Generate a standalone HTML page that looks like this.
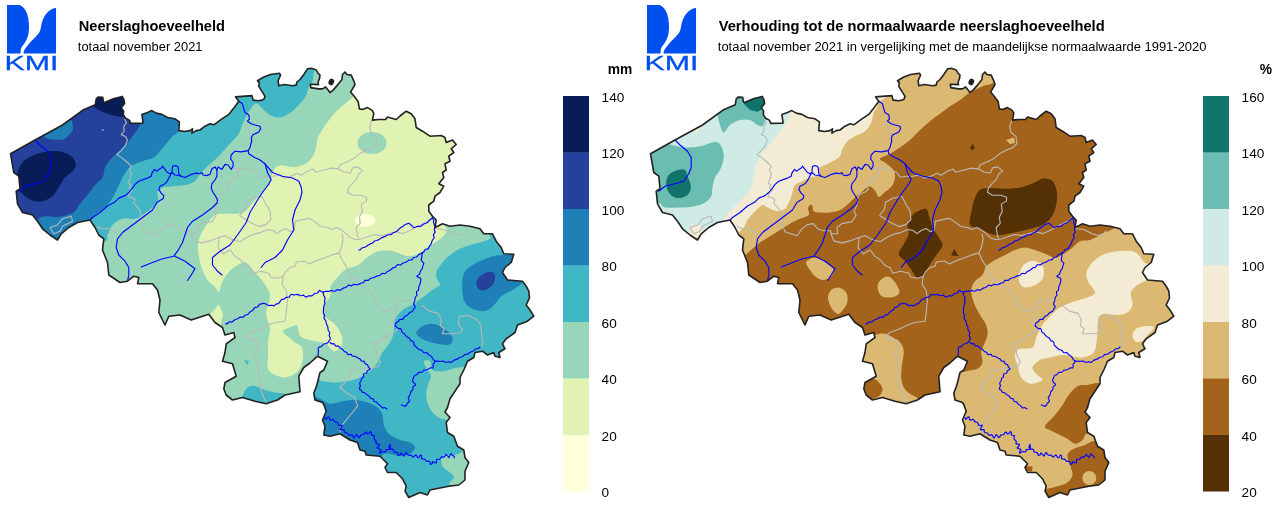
<!DOCTYPE html>
<html><head><meta charset="utf-8"><title>KMI neerslag november 2021</title>
<style>
html,body{margin:0;padding:0;background:#fff}
body{width:1280px;height:507px;overflow:hidden}
svg{display:block;will-change:transform}
text{font-family:"Liberation Sans",sans-serif;fill:#000}
.logo text{fill:#0050ef}
</style></head><body>
<svg width="1280" height="507" viewBox="0 0 1280 507">
<defs>
<clipPath id="be"><path d="M10.5,153.8 L35,140 L62.5,125 L83,110.1 L95.3,104.7 L96.2,98.8 L98.1,97.1 L102.8,97.4 L103.3,101.6 L104.7,102.6 L113.3,98.8 L122.2,96.4 L123.7,98.8 L124.6,103.5 L121.3,107.8 L123.7,111.1 L123.2,114.4 L125.6,118.2 L129.3,120.1 L130.8,123.4 L143.1,123.1 L141.9,114.4 L147.5,112.5 L151.9,110.6 L156.2,113.1 L161.9,114.4 L167.5,117.5 L175,118.8 L179.4,121.9 L178.8,130.6 L184.4,131.5 L190,130.6 L192.5,128.8 L191.9,133.1 L196.2,130.6 L200,130 L205,126.2 L210,123.8 L213.8,124.8 L221.2,119.4 L228.8,114.4 L233.8,108.1 L238.8,101.2 L235.6,96.9 L251.9,95.6 L253.1,100.1 L258.8,100.8 L263.8,99.5 L265,96.4 L261.9,91.4 L258.8,86.4 L259.4,82.6 L257.5,80.8 L263.8,77 L270.6,74.5 L279.4,73.2 L280.6,75.1 L278.1,80.8 L278.8,85.8 L284.4,84.5 L292.5,85.8 L296.2,85.1 L296.9,82 L300,79.5 L303.8,74.5 L307.5,68.9 L311.2,68.2 L316.2,70.1 L318.1,73.2 L320,75.1 L319.4,78.9 L318.1,82 L318.5,84.6 L310.3,84.2 L310.8,87.6 L318.5,88.9 L322.5,88.9 L325.6,87 L328.1,90.1 L330,92.6 L333.1,90.1 L337.5,85.1 L341.9,79.5 L342.5,74.5 L345,72 L346.9,74.5 L351.2,75.1 L353.8,80.8 L355,84.5 L352.5,88.9 L350.6,92 L354.4,96.4 L358.1,101.4 L359.4,108.9 L362.5,109.5 L367.5,107.6 L371.9,110.1 L373.8,113.2 L372.5,120.1 L378.8,119.5 L385.6,119.5 L387.5,117 L396.2,119.5 L400,116 L406.2,111.2 L411.2,113.8 L415,118.8 L416.2,127.5 L422.5,131.2 L430,136.2 L441.2,135.5 L445,137.5 L446.2,142.5 L452.5,140 L456.2,144.5 L451.2,148.8 L453.8,152.5 L448.8,156.2 L450,161.2 L445,163.8 L446.2,170 L442.5,172.5 L443.8,177.5 L438.8,183.8 L443.8,186.2 L440,192.5 L435,196.2 L433.8,201.2 L428.8,205 L428.8,211.2 L432.5,216.2 L436.2,220 L435,227.5 L442.5,223.8 L450,226.2 L460,225 L470,226.2 L480,228.8 L483.8,233.8 L492.5,233.8 L496.2,241.2 L501.2,247.5 L503.8,253.8 L513.8,254.2 L511.2,262.5 L505,267.5 L502.5,272.5 L507.5,280 L522.5,281.2 L526.2,286.2 L528.8,291.2 L529.5,298 L526.2,305 L530,310 L533.8,316.2 L527.5,321.2 L517.5,325 L515,332.5 L506.2,338.8 L502.5,343.8 L505,348.8 L498.8,352.5 L500,357.5 L495,356.2 L493.8,352.5 L487.5,355 L482.5,351.2 L475,352.5 L473.8,357.5 L467.5,361.2 L463.8,370 L460,377.5 L460,383.8 L455,391.2 L450,398.8 L447.5,407.5 L445,412 L450,417.5 L446.2,422.5 L447.5,432.5 L453.8,436.2 L457.5,446.2 L463.8,450 L465,457.5 L468.8,462.5 L465,471.2 L465,480 L458.8,485 L448.8,486.2 L442.5,487.5 L430,490 L427.5,495 L420,492.5 L408.8,497.5 L405,491.2 L406.2,486.2 L402.5,478.8 L396.2,472.5 L387.5,472.5 L385,467.5 L387.5,463.8 L380,456.2 L366.2,455 L365,451.2 L360,450 L357.5,442.5 L350,440 L340,433.8 L330,436.2 L323.8,435 L325,426.2 L322.5,420 L326.2,411.2 L324,405 L322.5,402.5 L315,400 L313.8,393 L316.2,387 L317.5,382.5 L320,372.5 L323.8,370 L327.5,361.2 L317.5,356.2 L310,363 L303.8,367.5 L298.8,376.2 L300,391.8 L285,395 L277.5,400 L266.2,403.8 L255,401.2 L242.5,397.5 L232.5,400 L226.2,395 L223.8,388.8 L225,382.5 L236.2,376.2 L232.5,363.8 L222.5,361.2 L225,352.5 L226.2,343.8 L235,337.5 L233.8,332.5 L225,335 L222.5,327.5 L215,322.5 L208.8,314.2 L191.2,320 L180,315 L168.8,316.2 L165,325 L158.8,312.5 L160,300 L157.5,290 L152.5,283.8 L137.5,283.8 L138.8,277.5 L133.8,276.2 L127.5,281.2 L120,282.5 L108.8,275 L107.5,262.5 L102.5,250 L103.8,238.8 L98.8,235 L95,227.5 L90,220 L77.5,222.5 L68.8,227.5 L61.2,233.8 L57.5,240 L50,235 L42.5,228.8 L37.5,221.2 L32.5,215 L22.5,212.5 L17.5,203.8 L16.2,191.2 L20,188.8 L18.8,176.2 L13.8,172.5Z"/></clipPath>
<path id="beo" d="M10.5,153.8 L35,140 L62.5,125 L83,110.1 L95.3,104.7 L96.2,98.8 L98.1,97.1 L102.8,97.4 L103.3,101.6 L104.7,102.6 L113.3,98.8 L122.2,96.4 L123.7,98.8 L124.6,103.5 L121.3,107.8 L123.7,111.1 L123.2,114.4 L125.6,118.2 L129.3,120.1 L130.8,123.4 L143.1,123.1 L141.9,114.4 L147.5,112.5 L151.9,110.6 L156.2,113.1 L161.9,114.4 L167.5,117.5 L175,118.8 L179.4,121.9 L178.8,130.6 L184.4,131.5 L190,130.6 L192.5,128.8 L191.9,133.1 L196.2,130.6 L200,130 L205,126.2 L210,123.8 L213.8,124.8 L221.2,119.4 L228.8,114.4 L233.8,108.1 L238.8,101.2 L235.6,96.9 L251.9,95.6 L253.1,100.1 L258.8,100.8 L263.8,99.5 L265,96.4 L261.9,91.4 L258.8,86.4 L259.4,82.6 L257.5,80.8 L263.8,77 L270.6,74.5 L279.4,73.2 L280.6,75.1 L278.1,80.8 L278.8,85.8 L284.4,84.5 L292.5,85.8 L296.2,85.1 L296.9,82 L300,79.5 L303.8,74.5 L307.5,68.9 L311.2,68.2 L316.2,70.1 L318.1,73.2 L320,75.1 L319.4,78.9 L318.1,82 L318.5,84.6 L310.3,84.2 L310.8,87.6 L318.5,88.9 L322.5,88.9 L325.6,87 L328.1,90.1 L330,92.6 L333.1,90.1 L337.5,85.1 L341.9,79.5 L342.5,74.5 L345,72 L346.9,74.5 L351.2,75.1 L353.8,80.8 L355,84.5 L352.5,88.9 L350.6,92 L354.4,96.4 L358.1,101.4 L359.4,108.9 L362.5,109.5 L367.5,107.6 L371.9,110.1 L373.8,113.2 L372.5,120.1 L378.8,119.5 L385.6,119.5 L387.5,117 L396.2,119.5 L400,116 L406.2,111.2 L411.2,113.8 L415,118.8 L416.2,127.5 L422.5,131.2 L430,136.2 L441.2,135.5 L445,137.5 L446.2,142.5 L452.5,140 L456.2,144.5 L451.2,148.8 L453.8,152.5 L448.8,156.2 L450,161.2 L445,163.8 L446.2,170 L442.5,172.5 L443.8,177.5 L438.8,183.8 L443.8,186.2 L440,192.5 L435,196.2 L433.8,201.2 L428.8,205 L428.8,211.2 L432.5,216.2 L436.2,220 L435,227.5 L442.5,223.8 L450,226.2 L460,225 L470,226.2 L480,228.8 L483.8,233.8 L492.5,233.8 L496.2,241.2 L501.2,247.5 L503.8,253.8 L513.8,254.2 L511.2,262.5 L505,267.5 L502.5,272.5 L507.5,280 L522.5,281.2 L526.2,286.2 L528.8,291.2 L529.5,298 L526.2,305 L530,310 L533.8,316.2 L527.5,321.2 L517.5,325 L515,332.5 L506.2,338.8 L502.5,343.8 L505,348.8 L498.8,352.5 L500,357.5 L495,356.2 L493.8,352.5 L487.5,355 L482.5,351.2 L475,352.5 L473.8,357.5 L467.5,361.2 L463.8,370 L460,377.5 L460,383.8 L455,391.2 L450,398.8 L447.5,407.5 L445,412 L450,417.5 L446.2,422.5 L447.5,432.5 L453.8,436.2 L457.5,446.2 L463.8,450 L465,457.5 L468.8,462.5 L465,471.2 L465,480 L458.8,485 L448.8,486.2 L442.5,487.5 L430,490 L427.5,495 L420,492.5 L408.8,497.5 L405,491.2 L406.2,486.2 L402.5,478.8 L396.2,472.5 L387.5,472.5 L385,467.5 L387.5,463.8 L380,456.2 L366.2,455 L365,451.2 L360,450 L357.5,442.5 L350,440 L340,433.8 L330,436.2 L323.8,435 L325,426.2 L322.5,420 L326.2,411.2 L324,405 L322.5,402.5 L315,400 L313.8,393 L316.2,387 L317.5,382.5 L320,372.5 L323.8,370 L327.5,361.2 L317.5,356.2 L310,363 L303.8,367.5 L298.8,376.2 L300,391.8 L285,395 L277.5,400 L266.2,403.8 L255,401.2 L242.5,397.5 L232.5,400 L226.2,395 L223.8,388.8 L225,382.5 L236.2,376.2 L232.5,363.8 L222.5,361.2 L225,352.5 L226.2,343.8 L235,337.5 L233.8,332.5 L225,335 L222.5,327.5 L215,322.5 L208.8,314.2 L191.2,320 L180,315 L168.8,316.2 L165,325 L158.8,312.5 L160,300 L157.5,290 L152.5,283.8 L137.5,283.8 L138.8,277.5 L133.8,276.2 L127.5,281.2 L120,282.5 L108.8,275 L107.5,262.5 L102.5,250 L103.8,238.8 L98.8,235 L95,227.5 L90,220 L77.5,222.5 L68.8,227.5 L61.2,233.8 L57.5,240 L50,235 L42.5,228.8 L37.5,221.2 L32.5,215 L22.5,212.5 L17.5,203.8 L16.2,191.2 L20,188.8 L18.8,176.2 L13.8,172.5Z"/>
<g id="lines">
<g fill="none" stroke="#b9b9b9" stroke-width="1.1" stroke-linejoin="round"><path d="M124.6,118.6 L126.5,122.4 L123.7,126.7 L124.1,131 L121.3,134.7 L125.5,136.6 L127.4,140 L125,146.2 L121.2,150.6 L116.9,154.4 L122.5,158.1 L127.5,162.5 L131.2,166.2 L129.4,170 L131.2,173.8 L130,178.8 L128.1,182.5 L130.6,185 L129.4,188.1 L132.5,190 L128.8,193.8 L128.1,196.9 L132.5,197.5 L135,200 L133.8,203 L135.9,205.3 L139.9,210.4 L140.9,215.5"/>
<path d="M246.2,122.5 L247.5,127.5 L249.4,132.5 L250,136.2"/>
<path d="M233,169.1 L240.2,168.1 L246.3,168.1 L251.3,170.2 L256.4,172.2 L260.5,177.3 L266.6,176.3 L272.7,176.3 L278.8,175.2 L284.8,178.3 L290.9,176.3 L297,173.2 L301.1,175.2 L307.2,171.2 L313.3,169.1 L315.3,172.2 L323.4,170.2 L331.6,168.1 L338.3,168.9 L340.3,164.8 L347.4,161.8 L353.5,158.8 L359.6,153.7 L365.7,150.6 L372.8,147.6 L376.9,143.5 L375.9,136.4 L370.8,132.3 L369.8,126.2 L371.8,120.2"/>
<path d="M239.1,169.1 L238.1,176.3 L232,180.3 L227,184.4 L228.2,189 L225.2,192.1 L220.1,194.1 L216.5,199.2 L218.1,202 L214.1,211.4 L216.1,215.5 L212,221.6 L201.9,223.6 L196.8,227.7 L197.8,233.8 L190.7,233.8"/>
<path d="M338.3,168.9 L344.4,172 L350.5,173 L352.5,167.9 L357.6,166.9 L362.7,170.9 L358.6,174 L356.6,179.1 L352.5,183.1 L348.4,188.2 L347.4,192.3 L352.5,195.3 L360.6,195.3 L366.7,197.3 L366.4,201.1 L361.3,204.1 L362.3,211.2 L359.3,217.3 L360.3,223.4 L356.2,227.5 L357.3,234.6 L358.3,238.7"/>
<path d="M239.5,215.5 L244.5,209.4 L245.5,202.3 L252.7,198.2 L261.8,196.2 L265.9,204.3 L269.9,210.4 L270.9,219.5 L265.9,224.6 L258.8,226.6 L250.6,222.6 L244.5,218.5 L239.5,215.5"/>
<path d="M97.3,226.6 L102.3,228.7 L110.5,228.7 L115.5,232.7 L116.6,235.8"/>
<path d="M140.9,215.5 L143,226.6 L145,231.7 L151.1,233.8 L157.2,235.8 L161.2,229.7 L167.3,224.6 L173.4,223.6 L177.5,228.7 L183.6,230.7 L190.7,230.7 L191.7,235.8 L193.8,240.9 L201.9,242.9 L210,240.9 L218.1,237.7 L225.2,235.6 L230.3,238.7 L236.4,240.7 L240.5,241.7 L244.5,238.7 L250.6,235.6 L255.7,233.6 L260.8,232.6 L267.9,229.5 L273,230.5 L277,233.6 L281.1,230.5 L286.2,228.5 L290.2,231.6 L294.3,230.5 L295.3,221.4 L303.4,219.4 L309.5,218.4 L315.6,222.4 L320.7,226.5 L327.8,227.5 L331.9,229.5 L337,227.5 L342,230.5 L345.1,232.6 L350.2,237.7 L356.2,239.7 L362.3,238.7 L368.4,236.6 L374.5,234.6 L382.7,235.6 L388.8,233.6 L395.9,231.6 L403,233.6 L410.1,230.5 L415.2,227.5 L421.3,224.5 L427.3,221.4 L432.4,217.3"/>
<path d="M219.1,237.7 L218.1,247.8 L223.2,253.9 L230.3,249.8 L234.4,255.9 L240.5,260 L244.5,265.1 L250.6,268.1 L252.7,273.2 L260.8,271.2 L268.9,273.2 L270.9,277.3 L278,278.3 L283.1,276.2 L285.2,272.2 L289.2,268.1 L295.3,266.1 L296.3,262 L304.5,261 L309.5,264.1 L315.6,261 L323.8,258 L331.9,254.9 L339,252.9 L342,245.8 L343.1,238.7 L342,233.6"/>
<path d="M339,252.9 L342,260 L346.1,266.1 L350.2,276.2 L356.2,280.3 L362.3,286.4 L369.1,289.1 L373.1,296.2 L375.2,303.3 L381.2,307.3 L385.3,311.4 L391.4,308.4 L396.5,306.3 L399.5,300.2 L405.6,301.2 L411.7,299.2"/>
<path d="M396.5,306.3 L395.5,315.5 L390.4,322.6 L395.5,325.6 L397.5,329.7 L391.4,333.8 L385.3,337.8 L379.2,341.9 L372.1,343.9 L376.2,350 L377.2,356.1 L380.2,361.2 L378.2,366.2 L371.1,368.3 L360.9,369.3 L351.8,370.3 L349.8,376.4 L344.7,382.5 L340,387.5 L347.5,393.8 L355,397.5 L357.5,406.2 L352.5,412.5 L346.2,420 L341.2,426.2 L340,432.5"/>
<path d="M283.1,276.2 L282.1,284.4 L286.2,290.5 L287.5,300 L286.2,312.5 L285,321.2 L275,322.5 L267.5,325 L260,328.8 L250,332.5 L245,336.2 L250,340 L257.5,340 L260,343.8 L255,352.5 L257.5,362.5 L258.8,372.5 L260,385 L262.5,395 L266.2,402.5"/>
<path d="M435.5,228.5 L443.6,229.5 L451.7,233.6 L457.8,235.6 L463.9,233.6 L466,230.5"/>
<path d="M421.9,305.3 L430,311.4 L438.1,313.4 L441.2,319.5 L440.2,325.6 L444.2,328.7 L442.2,333.8 L452.3,333.8 L460.5,332.7 L462.5,329.7 L458.4,324.6 L459.5,316.5 L468.6,315.5 L476.7,319.5 L480.8,324.6 L481.8,335.8 L482.8,343.9 L480.8,347"/>
<path d="M50,227.5 L57.5,225 L62.5,218.8 L71.2,216.2 L72.5,221.2 L62.5,226.2 L60,231.2 L53.8,233.8 L50,227.5"/></g>
<g fill="none" stroke="#0303ff" stroke-width="1.15" stroke-linejoin="round" stroke-linecap="round"><path d="M35,140 L40,145 L47.5,151.2 L51.2,157.5 L51.2,167.5 L48.8,173.8 L43.8,181.2 L35,183.8 L25,186.2 L18.8,191.2"/>
<path d="M238.8,101.2 L242.5,103.8 L243.8,108.8 L245,112.5 L248.8,115 L249.4,118.8 L247.5,121.2 L251.2,123.8 L255,125 L260,126.2 L260.6,128.8 L258.8,131.9 L252.5,135 L251.2,138.8 L251.9,140 L250,147.5 L248.1,150.6 L241.2,151.9 L235,151.2 L231.2,155 L230.6,158.8 L233.1,162.5 L233.1,166.2 L231.2,169.4 L228.1,165 L225,164.4 L221.9,169.4 L218.1,166.9 L216.9,170 L215,166.9 L211.9,168.8 L210,174.4 L206.2,175.6 L203.1,175 L201.9,172.5 L200,173.8 L196.2,173.1 L191.2,174.4 L185,177.5 L181.2,176.2 L178.8,173.8 L178.1,166.9 L175.6,165.6 L172.5,166.2 L171.9,172.5 L170,173.8 L167.5,172.5 L165,169.4 L162.5,166.2 L161.2,168.1 L158.8,169.4 L156.9,171.2 L154.4,169.4 L151.9,173.1 L151.2,176.2 L147.5,178.1 L143.8,179.4 L138.8,181.2 L135,184.4 L132.5,188.1 L128.8,192.5 L125,195.6 L118.8,198.1 L115,201.9 L107.5,206 L100,212.5 L92.5,217.5 L90,220"/>
<path d="M171.2,173.8 L169.4,176.9 L167.5,180.6 L165,183.8 L160,186.2 L158.8,189.4 L161.2,193.1 L163.8,195.6 L163.1,198.8 L160,200.6 L156.9,202.5 L152.5,210 L142.5,217.5 L132.5,225 L122.5,232.5 L117.5,238.8 L116.2,247.5 L118.8,255 L125,261.2 L128.8,267.5 L128.8,275 L127.5,281.2"/>
<path d="M216.9,170 L216.9,176.2 L215,180 L211.9,183.8 L211.2,188.1 L213.1,192.5 L215.6,196.2 L217.5,200 L217,203 L212.5,207.5 L202.5,215 L192.5,221.2 L187.5,227.5 L185,235 L182.5,242.5 L177.5,251.2 L173.8,256.2 L162.5,258.8 L152.5,262.5 L141.2,267"/>
<path d="M175,256.2 L185,261.2 L195,268.8 L191.2,275 L187.5,280.5"/>
<path d="M265,163.8 L267.5,172.5 L271.2,179.5 L268.8,184 L262.5,192.5 L257.5,200 L250,212.5 L246.2,222.5 L237.5,235 L230,245 L220,251.2 L212.5,257.5 L212.5,265 L217.5,271.2 L222,275"/>
<path d="M248.1,150.6 L248.8,153.8 L253.8,156.9 L260,160 L265,163.8 L272.5,172.5 L282.5,176.2 L292.5,178 L298.8,181.2 L301.2,187 L302,192 L300,200 L295,210 L292.5,220 L293.8,230 L287.5,240 L282.5,250 L275,257.5 L265,262.5 L261.2,267.5"/>
<path d="M358.8,250 L360.5,249.6 L361.7,248.2 L363.3,247.5 L365.1,247.1 L366.5,246.3 L367.8,245.3 L369.2,244.4 L370.7,243.8 L372.3,243.2 L373.5,242 L374.8,240.8 L376.7,240.5 L378.5,239.9 L380,238.7 L381.6,237.8 L383.4,237.1 L385,236.4 L386.6,235.5 L388.2,234.7 L390.1,234.7 L391.8,234.1 L393.2,232.8 L394.9,232.3 L396.3,231.6 L397.6,230.5 L398.7,229.3 L399.9,228.2 L401.3,227.3 L402.7,226.6 L404,225.4 L405.4,224.2 L407.2,223.9 L408.7,223.3 L410,224.1 L411.3,225.2 L412.5,226.4 L413.7,227.7 L415.3,227.2 L416.8,226.5 L418.4,226.3 L420.1,226.6 L421.6,225.8 L422.9,224.5 L424.4,223.8 L426,223.3 L427.5,222.6 L428.7,221.2 L429.9,219.9 L431.4,218.9 L432.5,217.5"/>
<path d="M432.5,217.5 L432.9,218.9 L433.8,220.2 L433.5,221.8 L433.7,223.3 L434.3,224.6 L434.8,226 L435,227.5 L434.4,228.9 L434.5,230.3 L435.2,231.9 L434.5,233.2 L433.4,234.6 L433.6,236 L434.2,237.6 L433.3,239 L432.3,240.3 L431.8,241.9 L431.4,243.4 L430.6,244.8 L429.6,245.9 L428.9,247.1 L428.4,248.6 L426.9,249.1 L425.3,249.3 L424.5,250.5 L423.8,251.9 L422.7,252.6 L422,254 L421.8,255.6 L421.8,257.2 L421.4,258.7 L421.3,260.5 L422.5,261.9 L423.8,263.2 L423.5,265 L422.7,266 L422.6,267.5 L422.1,268.9 L421.2,270 L420.5,271.2 L420,272.5 L419.5,274 L418.4,275.1 L416.8,276.3 L418.2,277.4 L419.8,277.7 L420.7,278.7 L420.9,280.1 L420.5,281.4 L420.4,283.1 L419.8,284.5 L419.1,285.9 L418.6,287.5 L418.7,289.1 L418,290.6 L416.5,291.8 L416.6,293.5 L416.9,295.2 L415.9,296.5 L415.1,297.8 L415,299.4 L414.7,300.9 L414.2,302.3 L413.4,303.8 L414.3,305.4 L415.2,306.9 L414.5,308.6 L413.4,309.3 L412.8,311.2 L411.4,311.9 L409.8,312.5 L408.7,313.7 L407.6,314.9 L406.3,315.8 L404.7,316.4 L403.8,317.8 L402.9,319.4 L401.2,319.4 L399.6,319.6 L398.8,321 L397.7,322.1 L396.3,322.5 L395.7,323.7 L395.4,325 L395.1,326.2 L396.3,326.7 L397.4,327.8 L398.5,328.6 L400.2,328.5 L401.5,329.6 L401.6,331.6 L402.7,332.7 L404.3,333.5 L405.1,334.9 L406,336 L407.1,336.9 L408.3,337.5 L409.5,338.3 L410.2,339.7 L411,340.9 L412.7,341.1 L413.9,342.1 L413.9,343.8 L414.3,345.3 L415.5,346.2 L416.4,347.3 L417.5,348.3 L418.7,349.2 L420,349.8 L421.5,350.1 L422.5,351.2 L423.4,352.5 L424.9,352.8 L426.6,352.5 L427.7,353.4 L428.6,354.7 L429.8,355.2 L431.1,356.1 L432.1,357.4 L432.9,358.9 L433.9,360.1 L435.5,361.2 L434.4,362.8 L433,364.1 L433.3,366 L432.9,367.9 L431,367.8 L429.6,368.3 L428.2,369.2 L426.8,369.8 L425.3,370 L423.8,370.4 L422.6,371.6 L421.5,372.4 L419.8,372.2 L418.4,372.5 L417.6,373.9 L416.5,374.9 L415,375 L414.2,376.1 L413.7,377.5 L413.3,378.8 L412.6,380 L412.8,381.4 L413.5,382.6 L414.9,383.5 L415.6,385 L413.8,386 L413,387.2 L413,388.9 L412.3,390.2 L411.1,391.2 L410.5,392.8 L410.1,394.4 L409.5,396 L408.2,397.4 L408.7,399.2 L409.5,400.8 L408.6,402.4 L407.3,403 L406.8,404.3 L406.2,405.6 L405,406.4 L403.8,405.7 L402.5,405.3 L401.2,405"/>
<path d="M435,361.2 L436.5,361 L438,361.2 L439.5,361.4 L441,361.3 L442.5,361.1 L444,361.4 L445.4,362.2 L447,362.2 L448.6,361.7 L450,362.3 L451.5,362.3 L452.6,361.4 L453.7,360.4 L454.9,359.9 L456.3,359.4 L457.6,358.9 L458.7,358 L459.9,357.2 L461.3,357 L462.7,356.7 L463.7,355.6 L464.7,354.5 L466.2,354.3 L467.7,354.1 L468.8,353.2 L469.9,352.4 L471.2,351.8 L472.5,351.3 L473.8,350.7 L474.9,349.6 L476.1,348.8 L477.7,348.7 L479,348.1 L480,347"/>
<path d="M422.5,252.5 L421.3,253.5 L420,254.1 L418.6,254.8 L417.6,256 L416.5,257 L414.8,257.2 L413.3,257.7 L412.4,259.4 L410.9,260 L409.1,260 L407.8,260.9 L406.5,261.9 L405,262.5 L403.5,262.9 L402.1,263.6 L400.8,264.8 L399.2,264.8 L397.4,264.7 L396.3,266.1 L395.2,267.4 L393.5,267.6 L392.1,268.5 L391,269.6 L389.6,270.5 L388.1,271.1 L386.8,272 L385.7,273.2 L384.4,273.8 L382.7,273.3 L381.3,273.8 L380.3,275.3 L379,275.8 L377.4,275.9 L376.1,276.4 L374.8,277.1 L373.5,277.8 L372,278 L370.5,278.2 L369.4,279.3 L368.3,280.4 L366.6,280.2 L365,280.4 L364.1,281.8 L362.9,282.7 L361.4,283 L360,283.6 L358.8,284.4 L357.2,284.8 L355.6,284.6 L354,284.2 L352.5,285.3 L351,285.9 L349.3,285 L347.8,285.5 L346.8,286.8 L345.5,287.5 L344,287.9 L342.6,288.5 L341.4,289.5 L340.1,290.4 L338.4,289.8 L336.8,289.8 L335.4,291 L333.8,291.2 L332.1,290.4 L330.6,290.8 L329.1,291.4 L327.6,291.4 L326,291.4 L324.5,291.6 L323,292.3 L321.2,291.5 L319.3,290.3 L318.3,292 L317.3,293.1 L315.6,293.2 L314.2,293.7 L313.2,294.9 L312,295.8 L310.5,295.8 L309,295.8 L307.7,296.3 L306.2,297.2 L304.7,296.3 L303.4,295.1 L301.8,295.5 L300.1,295.7 L298.8,294.7 L297.2,294.4 L295.8,294.7 L294.2,294.9 L292.8,294.7 L291.1,294.3 L290.1,295.7 L289.2,297.1 L287.4,297.3 L285.9,297.3 L284.7,298.6 L283.5,299.4 L281.9,299.3 L280.8,300.4 L280,301.7 L279.1,303 L278,303.9 L276.4,303.9 L275.1,305 L273.8,305.9 L272,305.3 L270.6,305.4 L269,305.6 L267.5,305 L266.1,304.1 L264.6,303.5 L263,303.2 L261.7,303.9 L260,304 L258.8,305.1 L257.9,306.7 L256.5,307.1 L254.9,307.4 L254,308.6 L253.2,309.9 L252,310.7 L250.7,311.4 L249.6,312.4 L248.7,313.6 L247.6,314.6 L246,314.8 L244.6,315.5 L243.5,317.1 L241.8,317.1 L240.1,317 L238.7,318 L237.6,318.8 L236.3,319.3 L234.9,319.8 L233.7,320.5 L232.7,321.6 L231.4,322.3 L229.7,321.8 L228.3,322.3 L227.2,323.8 L225.6,323.8"/>
<path d="M323,292 L323.4,293.6 L323.6,295.2 L324.5,296.7 L325.2,298.2 L324.8,299.9 L324.5,301.2 L324.9,302.8 L324.7,304.2 L324,305.5 L323.7,306.9 L323.6,308.3 L323.4,309.7 L323.4,311.3 L323.4,312.9 L324.1,314.4 L324.6,316 L323.9,317.7 L324.4,319.1 L325.5,320.2 L326,321.5 L326.2,322.9 L326.6,324.2 L327.2,325.5 L327.8,326.8 L328,328.3 L328,329.8 L328.7,331 L329.8,332.3 L329.6,333.7 L329.1,335.2 L329.6,336.6 L330.2,337.9 L330.3,339.3 L329.1,340.7 L328.2,342.3 L326.8,343.3 L325.2,343.7 L323.6,344 L322.4,345.4 L321.3,346.6 L319.4,346.9 L318.1,348.1 L318.5,349.6 L318.4,351 L318.2,352.3 L318.2,353.7 L318.3,355.1"/>
<path d="M330,342.5 L330.9,343.4 L332.1,343.9 L333.6,343.6 L334.6,344.3 L335.3,345.9 L336.5,346.2 L338,345.9 L339,346.7 L339.8,347.7 L340.8,348.4 L342,349 L342.9,349.8 L343.6,350.7 L344.5,351.6 L345.8,352 L346.9,352.6 L347.3,354.1 L348.4,354.8 L349.8,354.3 L351.1,354.4 L351.9,355.6 L352.9,356.3 L354.2,356.2 L355.4,356.4 L356.4,357.1 L357.4,357.6 L358.5,358.2 L359.6,358.6 L360.5,359.5 L361.1,360.7 L362.2,361.2 L363.7,361.1 L364.6,362 L364.9,363.5 L365.9,364.1 L367.3,364.5 L367.9,365.6 L368.3,366.9 L369.2,367.8 L370.1,368.8 L369.2,369.7 L368,370.4 L367.1,371.2 L366.8,372.7 L365.8,373.5 L364.2,373.7 L363.4,374.7 L363.7,376.3 L363,377.3 L361.9,378.1 L361.4,379.2 L361.2,380.4 L360.7,381.5 L359.9,382.5 L359.8,383.8 L360.2,385 L360.4,386.2 L359.7,387.5 L359.3,388.8 L360.3,389.8 L361.4,390.2 L361.9,391.8 L363,392.5 L364.4,392.6 L365.5,393.4 L366.4,394.4 L367.4,395.1 L368.5,395.7 L369.5,396.4 L370.1,397.6 L371,398.5 L372.5,398.6 L373.5,399.2 L373.8,400.8 L374.6,401.7 L376.1,401.8 L377.2,402.5 L377.7,403.7 L378.6,404.6 L379.7,405.1 L380.7,405.8 L381.5,406.8 L382.4,407.8 L383.6,407.8 L384.9,407.6 L385.9,408.4 L387,408.8"/>
<path d="M325,417.5 L325.9,419.4 L327.7,417.2 L329.1,416.8 L329.6,419.7 L330.8,420.3 L332.9,419.2 L333.9,420.4 L334.8,421.6 L336,422.1 L337.3,422.3 L338.1,423.4 L338.3,425.2 L339.8,425.2 L342.3,425.4 L341,427.6 L340.3,429.6 L343.2,429.5 L344.2,429.8 L344.2,431.9 L345.2,432.7 L346.6,432.8 L347.7,433.5 L348.6,434.7 L349.8,435.5 L351.8,434.6 L352.6,435.8 L353.8,438.1 L355,436.8 L356.2,434.4 L357.5,435.8 L358.8,437.6 L360.1,436.5 L360.7,435.1 L362,434.8 L363.3,434.7 L364.3,433.9 L364.9,432.6 L366.2,432 L367.3,433.9 L368.6,433.8 L370.3,431.5 L371.4,432.7 L371.4,435.1 L372.6,435.2 L374.6,435.8 L374,437.5 L374,438.9 L375.1,440 L376,440.8 L376.2,442.1 L376,443.6 L377.5,444.1 L379.5,444.4 L378.9,446.2 L377,447.9 L379.3,448.7 L381.2,449.7 L379.7,451.3 L379.5,453.3 L381.2,452.2 L382.4,451.6 L383.8,451.8 L385.1,452 L386.1,451.1 L386.1,449.6 L388.1,449.5 L389.9,449.3 L388.9,447 L390,444.3 L390.4,447.5 L390.3,449.1 L392.5,449.1 L393.6,449.8 L393.7,451.3 L394.6,452.2 L395.9,452.4 L397.2,452.6 L397.9,453.8 L398.3,455.5 L400,455 L400.9,452.9 L402.5,454.6 L404.1,456.2 L405,453.8 L406.4,452.4 L407.4,454.5 L408.5,455.3 L410.1,455.1 L411.4,455.4 L412.4,456.6 L413.8,456.9 L415,455.4 L416.2,455.1 L417.5,457.5 L418.8,457.7 L420.4,455 L421.8,456 L421.4,458.5 L422.5,459.2 L424.3,458.8 L425.2,459.7 L426,460.8 L427,461.4 L428.4,461.3 L429.7,461.4 L430.1,463.1 L430.7,464.6 L432.4,463.2 L432.4,461.5 L434.8,462.7 L436.5,462.8 L436.3,460.4 L436.9,459.2 L438.6,459.5 L439.8,459.2 L440.6,458.1 L441.4,457.1 L442.7,456.9 L444.1,457.2 L445,456 L446,454.3 L447.5,455.9 L449,457.6 L450,455.3 L451,453.7 L452.5,455.3 L453.1,455.7 L454.3,456.5 L454.2,458"/>
<path d="M171.9,172.5 L175,175 L178.5,175.5 L181.2,176.2"/></g>
<use href="#beo" fill="none" stroke="#222" stroke-width="1.6" stroke-linejoin="round"/>
<ellipse cx="331.3" cy="82" rx="2.7" ry="3.4" fill="#222" transform="rotate(25 331.3 82)"/>
</g>
</defs>
<rect width="1280" height="507" fill="#fff"/>
<!-- left map -->
<g clip-path="url(#be)">
<rect x="0" y="60" width="560" height="447" fill="#97d6b9"/>
<path d="M352.5,97.5 C349.2,99.8 347.5,101.7 345,103.8 C342.5,105.8 340,107.5 337.5,110 C335,112.5 332.3,115.8 330,118.8 C327.7,121.7 325.8,124.4 323.8,127.5 C321.8,130.6 319.3,134.2 318,137.5 C316.7,140.8 316.8,144.4 316,147.5 C315.2,150.6 314.4,153.5 313,156 C311.6,158.5 309.7,160.8 307.5,162.5 C305.3,164.2 302.5,165.2 300,166 C297.5,166.8 295.3,167.1 292.5,167 C289.7,166.9 285.6,165.6 283,165.5 C280.4,165.4 278.5,165.8 277,166.5 C275.5,167.2 274.8,168.2 273.8,170 C272.8,171.8 271.8,174.5 271,177 C270.2,179.5 270.2,182.4 268.8,185 C267.3,187.6 264.8,190 262.5,192.5 C260.2,195 257.5,197.2 255,200 C252.5,202.8 249.5,206.9 247.5,209 C245.5,211.1 244.7,211.7 243,212.5 C241.3,213.3 240.5,213.5 237.5,213.8 C234.5,214 228.8,213.5 225,213.8 C221.2,214 217.9,213.3 215,215 C212.1,216.7 209.8,220.6 207.5,223.8 C205.2,226.9 202.6,230.5 201,234 C199.4,237.5 198.3,241.1 198,245 C197.7,248.9 198.2,253.3 199,257.5 C199.8,261.7 201.1,266.2 202.5,270 C203.9,273.8 205.6,277.3 207.5,280 C209.4,282.7 212.1,284 214,286 C215.9,288 217.8,292.2 219,292 C220.2,291.8 220,287.5 221,285 C222,282.5 223.1,279.8 225,277 C226.9,274.2 230,270.7 232.5,268.5 C235,266.3 238,265.1 240,264 C242,262.9 243.2,262 244.5,262 C245.8,262 246.4,262.5 248,264 C249.6,265.5 252,268.7 254,271 C256,273.3 258.2,275.8 260,278 C261.8,280.2 263.4,281.9 265,284.5 C266.6,287.1 269,290.9 269.7,293.8 C270.4,296.6 269.6,298.8 269,301.8 C268.4,304.8 266.2,308.4 266,311.7 C265.8,315 267.3,318.6 268,321.5 C268.7,324.4 270,326.1 270,329.4 C270,332.7 268.3,336.7 268,341.3 C267.7,345.9 268,352.4 268,357 C268,361.6 266.8,365.9 268,368.9 C269.2,371.9 272.2,373.4 275,374.8 C277.8,376.2 281.5,377.6 284.8,377.4 C288.1,377.2 292.1,375.6 294.7,373.8 C297.3,372.1 299.2,369.7 300.6,366.9 C302,364.1 302.8,360.3 303,357 C303.2,353.7 303,349.6 301.6,347.2 C300.2,344.8 296.8,343.9 294.7,342.3 C292.6,340.7 290.8,339.1 288.8,337.3 C286.8,335.6 283.1,333.3 282.8,331.8 C282.5,330.3 284.5,329.6 286.8,328.5 C289.1,327.4 294.6,325 296.6,325.5 C298.6,326 297.8,329.4 298.6,331.4 C299.4,333.4 299.6,335.8 301.6,337.3 C303.6,338.8 307.4,339.5 310.5,340.3 C313.6,341.1 317.7,341.8 320.3,342.3 C322.9,342.8 324.6,342.3 326.2,343.3 C327.8,344.3 328.7,346.9 330.2,348.2 C331.7,349.5 333.3,351.4 335.1,351.1 C336.9,350.8 339.8,348.2 341,346.2 C342.2,344.2 342.6,341.8 342.4,339.3 C342.2,336.8 341.4,334 340,331.4 C338.6,328.8 336.2,325.6 334.1,323.5 C332,321.4 329,319.9 327.2,318.6 C325.4,317.3 323.9,317.2 323.3,315.6 C322.7,314 322.8,311 323.3,308.7 C323.8,306.4 325.1,303.9 326.2,301.8 C327.3,299.7 329.5,297.9 330.2,295.9 C330.9,293.9 330.5,291.6 330.6,290 C330.7,288.4 329.7,288.1 330.6,286.2 C331.5,284.4 333.8,281.6 336.2,278.8 C338.8,275.9 341.9,271.7 345.6,269.4 C349.4,267.1 355.3,266.6 358.8,264.7 C362.2,262.8 363.1,260.2 366.2,258 C369.4,255.8 373.5,252.7 377.5,251.5 C381.5,250.3 386.2,250.2 390,250.6 C393.8,251 396.7,252.8 400,253.8 C403.3,254.7 406.7,256.5 410,256.2 C413.3,256 417.1,254 420,252.5 C422.9,251 425,249.2 427.5,247.5 C430,245.8 432.5,244.2 435,242.5 C437.5,240.8 440.5,239.1 442.5,237 C444.5,234.9 446.4,232.2 447,230 C447.6,227.8 442.2,226.5 446,224 C449.8,221.5 464.3,230.7 470,215 C475.7,199.3 488.3,150 480,130 C471.7,110 439.2,101.7 420,95 C400.8,88.3 376.2,89.6 365,90 C353.8,90.4 355.8,95.2 352.5,97.5Z" fill="#e0f3b2"/>
<path d="M218.7,304.8 C220,305.5 222.2,311.2 222.7,313.7 C223.2,316.2 222.2,317.6 221.7,319.6 C221.2,321.7 221.8,326.4 219.7,326 C217.6,325.6 209.8,319.7 209,317 C208.2,314.3 213.2,311.7 214.8,309.7 C216.4,307.7 217.4,304.1 218.7,304.8Z" fill="#e0f3b2"/>
<ellipse cx="372" cy="143" rx="14.5" ry="11" fill="#97d6b9"/>
<ellipse cx="365" cy="220.5" rx="10" ry="6.5" fill="#ffffd9"/>
<path d="M314,55 C366.3,56 314.1,62.8 314,66 C313.9,69.2 313.8,71.5 313.5,74 C313.2,76.5 313.3,79 312.5,81.2 C311.7,83.5 310,84.8 308.8,87.5 C307.5,90.2 306.9,94.4 305,97.5 C303.1,100.6 300.2,103.5 297.5,106.2 C294.8,109 291.7,111.9 288.8,113.8 C285.8,115.6 282.7,117.1 280,117.5 C277.3,117.9 275,117.3 272.5,116.2 C270,115.2 267.5,113.3 265,111.2 C262.5,109.2 259.6,104.6 257.5,103.8 C255.4,102.9 254.2,104.6 252.5,106.2 C250.8,107.9 249.2,110.8 247.5,113.8 C245.8,116.7 244.1,120.5 242.5,124 C240.9,127.5 240.5,131.3 238,135 C235.5,138.7 230.9,142.5 227.5,146.2 C224.1,150 220.8,154.2 217.5,157.5 C214.2,160.8 210.4,163.5 207.5,166.2 C204.6,169 202.1,171.2 200,173.8 C197.9,176.2 197.5,179.4 195,181.2 C192.5,183.1 188.8,184.2 185,185 C181.2,185.8 176.2,185.8 172.5,186.2 C168.8,186.7 165,186.5 162.5,187.5 C160,188.5 158.2,190.2 157.5,192.5 C156.8,194.8 158.8,198.5 158,201 C157.2,203.5 155.1,205.2 152.5,207.5 C149.9,209.8 145.4,213.1 142.5,215 C139.6,216.9 138.3,218.1 135,218.8 C131.7,219.4 126.2,217.7 122.5,218.8 C118.8,219.8 115,222.3 112.5,225 C110,227.7 109.1,232.2 107.5,235 C105.9,237.8 110.9,239.5 103,242 C95.1,244.5 77.2,248.7 60,250 C42.8,251.3 10,281.7 0,250 C-10,218.3 -52.3,92.5 0,60 C52.3,27.5 261.7,54 314,55Z" fill="#41b6c4"/>
<path d="M496,232 C484.3,233.1 492.7,237 490,238.8 C487.3,240.5 483.3,241.5 480,242.5 C476.7,243.5 473.3,244 470,245 C466.7,246 463.3,247.1 460,248.8 C456.7,250.4 452.9,252.7 450,255 C447.1,257.3 444.8,259.6 442.5,262.5 C440.2,265.4 437.1,269.6 436.2,272.5 C435.4,275.4 436.9,277.9 437.5,280 C438.1,282.1 440.8,283.3 440,285 C439.2,286.7 435.4,287.9 432.5,290 C429.6,292.1 425.6,295.2 422.5,297.5 C419.4,299.8 417.1,301.9 413.8,304 C410.4,306.1 405.6,307.3 402.5,310 C399.4,312.7 396.5,316.2 395,320 C393.5,323.8 394.6,328.8 393.8,332.5 C392.9,336.2 391.9,339.2 390,342.5 C388.1,345.8 384.6,349.2 382.5,352.5 C380.4,355.8 379.6,359.4 377.5,362.5 C375.4,365.6 372.9,368.8 370,371.2 C367.1,373.8 363.8,375.8 360,377.5 C356.2,379.2 351.7,380.4 347.5,381.2 C343.3,382.1 339.2,382.5 335,382.5 C330.8,382.5 326.3,381.5 322.5,381.2 C318.7,381 315.8,371.2 312,381 C308.2,390.8 288.7,419 300,440 C311.3,461 336.7,495.8 380,507 C423.3,518.2 530,552.8 560,507 C590,461.2 570.7,277.8 560,232 C549.3,186.2 507.7,230.9 496,232Z" fill="#41b6c4"/>
<path d="M242,397 C243.6,393.2 245.3,389.3 247.5,387.5 C249.7,385.7 252.1,385.6 255,386 C257.9,386.4 261.7,388.9 265,390 C268.3,391.1 271.5,391.7 275,392.5 C278.5,393.3 284.2,392.1 286,395 C287.8,397.9 294,407.5 286,410 C278,412.5 245.3,412.2 238,410 C230.7,407.8 240.4,400.8 242,397Z" fill="#41b6c4"/>
<path d="M244,360 L249,361 L247,365Z" fill="#41b6c4"/>
<path d="M423.8,361.2 C424.2,360 428.5,359.8 430,361.2 C431.5,362.7 430.4,368.3 432.5,370 C434.6,371.7 436.2,371.1 442.5,371.2 C448.8,371.4 465.4,362 470,371 C474.6,380 473.8,416.8 470,425 C466.2,433.2 452.3,421 447.5,420 C442.7,419 443.8,420 441.2,418.8 C438.8,417.5 434.8,415.2 432.5,412.5 C430.2,409.8 428.5,405.8 427.5,402.5 C426.5,399.2 426,395.8 426.2,392.5 C426.5,389.2 428,385.2 428.8,382.5 C429.5,379.8 431.3,378.2 431,376 C430.7,373.8 428.2,371.5 427,369 C425.8,366.5 423.2,362.5 423.8,361.2Z" fill="#97d6b9"/>
<path d="M442.5,456.2 C444.6,454.4 449.6,456 455,455 C460.4,454 471.7,444.2 475,450 C478.3,455.8 479.2,484.2 475,490 C470.8,495.8 453.5,487.1 450,485 C446.5,482.9 453.8,479.6 453.8,477.5 C453.8,475.4 451.9,474.4 450,472.5 C448.1,470.6 443.8,469 442.5,466.2 C441.2,463.5 440.4,458.1 442.5,456.2Z" fill="#97d6b9"/>
<path d="M179.2,128 C178.2,135.7 174.7,133.6 172.5,136.2 C170.3,138.9 168.3,141.2 166.2,143.8 C164.2,146.2 162.1,149 160,151.2 C157.9,153.5 156.7,155.8 153.8,157.5 C150.8,159.2 146,160 142.5,161.2 C139,162.5 135.2,163.3 132.5,165 C129.8,166.7 127.9,169.2 126.2,171.2 C124.6,173.3 124,174.7 122.5,177.5 C121,180.3 119.2,184.6 117.5,188 C115.8,191.4 114.6,194.8 112.5,198 C110.4,201.2 107.9,204.7 105,207.5 C102.1,210.3 97.8,212.6 95,215 C92.2,217.4 93.8,216.2 88,222 C82.2,227.8 74.7,245.3 60,250 C45.3,254.7 10,276.7 0,250 C-10,223.3 -29.8,116.7 0,90 C29.8,63.3 149.1,83.7 179,90 C208.9,96.3 180.3,120.3 179.2,128Z" fill="#1f80b8"/>
<path d="M512.5,255 C509.6,255 505.8,254.8 502.5,255 C499.2,255.2 495.8,255.4 492.5,256.2 C489.2,257.1 485.8,258.5 482.5,260 C479.2,261.5 475.4,263.1 472.5,265 C469.6,266.9 466.7,268.8 465,271.2 C463.3,273.8 462.9,276.5 462.5,280 C462.1,283.5 462.1,288.8 462.5,292.5 C462.9,296.2 463.3,299.8 465,302.5 C466.7,305.2 469.6,307.3 472.5,308.8 C475.4,310.2 479.6,311.2 482.5,311.2 C485.4,311.2 487.7,310.2 490,308.8 C492.3,307.3 494.6,304.4 496.2,302.5 C497.9,300.6 498.5,299 500,297.5 C501.5,296 502.9,295 505,293.8 C507.1,292.5 510,291.5 512.5,290 C515,288.5 518.1,286.7 520,285 C521.9,283.3 522.3,282.5 524,280 C525.7,277.5 530.7,274.2 530,270 C529.3,265.8 522.9,257.5 520,255 C517.1,252.5 515.4,255 512.5,255Z" fill="#1f80b8"/>
<path d="M416.2,332.5 C416.7,330.6 419.8,327.7 422.5,326.2 C425.2,324.8 429.2,323.5 432.5,323.8 C435.8,324 439.4,325.6 442.5,327.5 C445.6,329.4 449.6,332.7 451.2,335 C452.9,337.3 453.1,339.6 452.5,341.2 C451.9,342.9 450,344.6 447.5,345 C445,345.4 440.8,344.4 437.5,343.8 C434.2,343.1 430.4,342.3 427.5,341.2 C424.6,340.2 421.9,339 420,337.5 C418.1,336 415.8,334.4 416.2,332.5Z" fill="#1f80b8"/>
<path d="M318,398 C321.3,399 325.9,403.2 330,403.8 C334.1,404.3 338.3,401.9 342.5,401.2 C346.7,400.6 350.8,399.8 355,400 C359.2,400.2 363.8,401.2 367.5,402.5 C371.2,403.8 375,405.4 377.5,407.5 C380,409.6 381.5,412.1 382.5,415 C383.5,417.9 382.7,421.9 383.8,425 C384.8,428.1 386,431.2 388.8,433.8 C391.5,436.2 396.5,438.5 400,440 C403.5,441.5 407.5,441.2 410,442.5 C412.5,443.8 415,445.6 415,447.5 C415,449.4 412.5,452.3 410,453.8 C407.5,455.2 403.3,456.2 400,456.2 C396.7,456.2 392.9,454 390,453.8 C387.1,453.5 385,453.1 382.5,455 C380,456.9 382.1,465.8 375,465 C367.9,464.2 350.8,454.2 340,450 C329.2,445.8 315,448.7 310,440 C305,431.3 308.7,405 310,398 C311.3,391 314.7,397 318,398Z" fill="#1f80b8"/>
<path d="M140,122 C139.8,128.2 139.6,125.8 138.8,127.5 C137.9,129.2 136.9,130 135,132.5 C133.1,135 130.4,139.2 127.5,142.5 C124.6,145.8 120.4,149.6 117.5,152.5 C114.6,155.4 112.1,157.5 110,160 C107.9,162.5 106.2,164.6 105,167.5 C103.8,170.4 104.2,174.6 102.5,177.5 C100.8,180.4 97.5,182.1 95,185 C92.5,187.9 90,191.9 87.5,195 C85,198.1 82.1,201 80,203.8 C77.9,206.5 77.1,209.4 75,211.2 C72.9,213.1 70.4,214 67.5,215 C64.6,216 60.8,216.8 57.5,217 C54.2,217.2 50.4,216.2 47.5,216.2 C44.6,216.3 42.4,216.4 40,217.5 C37.6,218.6 39.7,220.9 33,223 C26.3,225.1 5.5,252.2 0,230 C-5.5,207.8 -23.3,113.3 0,90 C23.3,66.7 116.7,84.7 140,90 C163.3,95.3 140.2,115.8 140,122Z" fill="#24429b"/>
<path d="M43.5,136.5 L45.1,137.3 L47.5,138.8 L50.3,139.6 L57,139.8 L64,139.5 L67,137 L70,134 L73,130 L72.8,125 L71.6,120 L66,112 L40,128Z" fill="#1f80b8"/>
<ellipse cx="102.8" cy="130" rx="1" ry="1" fill="#41b6c4"/>
<path d="M476.2,282.5 C476.5,280.3 478.1,278 480,276.2 C481.9,274.5 485.2,272.5 487.5,272 C489.8,271.5 492.5,271.9 493.8,273 C495,274.1 495.2,276.8 495,278.8 C494.8,280.8 494.2,283.1 492.5,285 C490.8,286.9 487.3,289.3 485,290 C482.7,290.7 480.2,290.5 478.8,289.2 C477.3,288 476,284.7 476.2,282.5Z" fill="#24429b"/>
<path d="M92.5,106 L93.4,106.8 L98.1,110.1 L105.7,113 L112.3,115.3 L122.2,117.2 L128,114 L128,92 L92.5,92Z" fill="#081d58"/>
<path d="M18.8,168.8 C20,165.4 21.9,162.5 25,160 C28.1,157.5 33.3,155.2 37.5,153.8 C41.7,152.3 45.8,151.5 50,151.2 C54.2,151 58.8,151 62.5,152 C66.2,153 70.3,155.3 72.5,157.5 C74.7,159.7 75.8,162.7 75.8,165 C75.8,167.3 74.3,169.2 72.5,171.2 C70.7,173.3 67.1,175.2 65,177.5 C62.9,179.8 61.9,182.1 60,185 C58.1,187.9 56.2,192.4 53.8,195 C51.2,197.6 48.1,199.5 45,200.5 C41.9,201.5 38.3,202 35,201.2 C31.7,200.5 27.5,198.1 25,196.2 C22.5,194.4 21.2,192.7 20,190 C18.8,187.3 17.7,183.5 17.5,180 C17.3,176.5 17.5,172.1 18.8,168.8Z" fill="#081d58"/>
</g>
<use href="#lines"/>
<!-- right map -->
<g transform="translate(640,0)">
<g clip-path="url(#be)">
<rect x="0" y="60" width="560" height="447" fill="#dbb973"/>
<path d="M353.8,82.5 C350,85.2 346.5,84.6 342.5,86.2 C338.5,87.9 333.8,90.2 330,92.5 C326.2,94.8 323.3,97.7 320,100 C316.7,102.3 313.3,104 310,106.2 C306.7,108.5 303.3,111.2 300,113.8 C296.7,116.2 293.3,118.5 290,121.2 C286.7,124 283.3,126.9 280,130 C276.7,133.1 273.3,137.1 270,140 C266.7,142.9 263.3,145.2 260,147.5 C256.7,149.8 253.3,151.9 250,153.8 C246.7,155.6 240.8,157.3 240,158.8 C239.2,160.2 242.9,160.8 245,162.5 C247.1,164.2 250.8,166.7 252.5,168.8 C254.2,170.8 254.8,172.7 255,175 C255.2,177.3 254.6,180.3 253.8,182.5 C252.9,184.7 251.7,186.2 250,188 C248.3,189.8 245.6,191.5 243.8,193 C241.9,194.5 240.5,197.5 239,197 C237.5,196.5 236.2,191.8 234.5,190 C232.8,188.2 231,186 229,186.2 C227,186.5 224.8,189.4 222.5,191.2 C220.2,193.1 217.5,195.3 215,197.5 C212.5,199.7 210,202.4 207.5,204.5 C205,206.6 202.9,208.7 200,210 C197.1,211.3 193.3,212.1 190,212.5 C186.7,212.9 182.7,212.7 180,212.5 C177.3,212.3 175,212.3 173.8,211.2 C172.5,210.2 173.1,207.3 172.5,206.2 C171.9,205.2 170.8,204.6 170,205 C169.2,205.4 168.2,207.1 168,208.8 C167.8,210.4 170.1,213.3 168.8,215 C167.4,216.7 163.1,217.3 160,218.8 C156.9,220.2 153.3,221.9 150,223.8 C146.7,225.6 143.3,227.9 140,230 C136.7,232.1 133.3,234.2 130,236.2 C126.7,238.3 122.9,240.4 120,242.5 C117.1,244.6 115.2,246.5 112.5,248.8 C109.8,251 107.4,253.8 104,256 C100.6,258.2 93.5,255.5 92,262 C90.5,268.5 85.7,288.7 95,295 C104.3,301.3 138.8,293.8 148,300 C157.2,306.2 139.7,326.7 150,332 C160.3,337.3 198,330.7 210,332 C222,333.3 217.8,339.5 222,340 C226.2,340.5 231.2,336 235,335 C238.8,334 241.7,333.1 245,333.8 C248.3,334.4 252.3,337.1 255,338.8 C257.7,340.4 259.8,341.5 261.2,343.8 C262.7,346 263.6,349 263.8,352.5 C263.9,356 262.4,360.8 262,365 C261.6,369.2 261,373.8 261.2,377.5 C261.5,381.2 262.3,384.8 263.8,387.5 C265.2,390.2 267.6,391.9 270,393.8 C272.4,395.6 275.8,396.5 278,398.5 C280.2,400.5 280.2,404.4 283,406 C285.8,407.6 290.8,409.7 295,408 C299.2,406.3 305.3,401.3 308,396 C310.7,390.7 308,380.1 311,376 C314,371.9 321.8,372.5 326.2,371.2 C330.7,370 334.8,370.2 337.5,368.8 C340.2,367.3 341.9,365.2 342.5,362.5 C343.1,359.8 341,355.4 341.2,352.5 C341.5,349.6 342.7,347.9 343.8,345 C344.8,342.1 347.1,338.3 347.5,335 C347.9,331.7 347.5,328.3 346.2,325 C345,321.7 342.1,318.8 340,315 C337.9,311.2 335.2,306.7 333.8,302.5 C332.3,298.3 331,293.5 331.2,290 C331.5,286.5 333.1,283.8 335,281.2 C336.9,278.8 340.6,277.5 342.5,275 C344.4,272.5 344.2,268.8 346.2,266.2 C348.3,263.8 351.9,261.9 355,260 C358.1,258.1 361.7,256.7 365,255 C368.3,253.3 371.7,251.2 375,250 C378.3,248.8 381.7,247.5 385,247.5 C388.3,247.5 391.7,249 395,250 C398.3,251 401.7,252.5 405,253.8 C408.3,255 411.9,257.5 415,257.5 C418.1,257.5 420.8,255.4 423.8,253.8 C426.7,252.1 429.8,249.6 432.5,247.5 C435.2,245.4 437.1,242.5 440,241.2 C442.9,240 446.2,241.2 450,240 C453.8,238.8 458.3,235.8 462.5,233.8 C466.7,231.7 471.2,230.6 475,227.5 C478.8,224.4 484.2,236.2 485,215 C485.8,193.8 500,124.2 480,100 C460,75.8 386,72.9 365,70 C344,67.1 357.5,79.8 353.8,82.5Z" fill="#a4631a"/>
<path d="M225,381.2 C228,380.2 231.2,378.3 233.8,378.8 C236.2,379.2 238.5,381.9 240,383.8 C241.5,385.6 242.7,387.9 242.5,390 C242.3,392.1 240.8,394.7 238.8,396.2 C236.7,397.8 233.5,398.5 230,399.5 C226.5,400.5 220.3,404.4 218,402 C215.7,399.6 214.8,388.5 216,385 C217.2,381.5 222,382.3 225,381.2Z" fill="#a4631a"/>
<path d="M405,426.2 C405.8,423.8 412.1,418.5 415,415 C417.9,411.5 420.2,408.3 422.5,405 C424.8,401.7 426.2,398.1 428.8,395 C431.2,391.9 434.4,387.9 437.5,386.2 C440.6,384.6 443.4,385.2 447.5,385 C451.6,384.8 457.9,380.8 462,385 C466.1,389.2 473.2,402 472,410 C470.8,418 459.3,429 455,433 C450.7,437 448.3,432.6 446.2,433.8 C444.2,434.9 444.4,438.3 442.5,440 C440.6,441.7 437.5,444 435,443.8 C432.5,443.5 430.4,440.4 427.5,438.8 C424.6,437.1 420.4,435.2 417.5,433.8 C414.6,432.3 412.1,431.2 410,430 C407.9,428.8 404.2,428.8 405,426.2Z" fill="#a4631a"/>
<path d="M427.5,455 C428.1,452.3 430.8,450.4 433.8,448.8 C436.7,447.1 441.3,446.3 445,445 C448.7,443.7 449.8,441 456,441 C462.2,441 477.7,434.8 482,445 C486.3,455.2 496,491.7 482,502 C468,512.3 411.7,508.8 398,507 C384.3,505.2 398.4,494 400,491 C401.6,488 404.6,489.5 407.5,488.8 C410.4,488 414.2,487.3 417.5,486.2 C420.8,485.2 425,484.4 427.5,482.5 C430,480.6 432.1,477.9 432.5,475 C432.9,472.1 430.8,468.3 430,465 C429.2,461.7 426.9,457.7 427.5,455Z" fill="#a4631a"/>
<ellipse cx="449.3" cy="478" rx="7" ry="7" fill="#dbb973"/>
<path d="M386,466 L392.5,466.5 L392,471.5 L385,471Z" fill="#a4631a"/>
<path d="M166.2,262.5 C166.7,260.5 170.2,258.6 172.5,258 C174.8,257.4 177.5,257.8 180,258.8 C182.5,259.7 185.2,261.9 187.5,263.8 C189.8,265.6 193.3,267.7 193.8,270 C194.2,272.3 191.9,275.8 190,277.5 C188.1,279.2 185,280.2 182.5,280 C180,279.8 177.1,277.9 175,276.2 C172.9,274.6 171.5,272.3 170,270 C168.5,267.7 165.8,264.5 166.2,262.5Z" fill="#dbb973"/>
<path d="M188,297.5 C188,294.6 189.5,291.7 191.2,290 C193,288.3 196.2,287.1 198.8,287.5 C201.2,287.9 204.8,290.2 206.2,292.5 C207.7,294.8 207.9,298.5 207.5,301.2 C207.1,304 205.3,306.6 203.8,308.8 C202.2,310.9 200.1,314.2 198,314 C195.9,313.8 192.9,310.2 191.2,307.5 C189.6,304.8 188,300.4 188,297.5Z" fill="#dbb973"/>
<path d="M237.5,286.2 C237.7,283.8 239.2,281.1 241,279.5 C242.8,277.9 245.8,276.2 248,276.5 C250.2,276.8 252.6,279 254.5,281.5 C256.4,284 259.4,289 259.5,291.5 C259.6,294 257.2,295.5 255,296.5 C252.8,297.5 248.5,297.8 246,297.5 C243.5,297.2 241.4,296.4 240,294.5 C238.6,292.6 237.3,288.8 237.5,286.2Z" fill="#dbb973"/>
<path d="M366,140 L374,137.5 L375,143 L370,144Z" fill="#dbb973"/>
<path d="M330,225 C328.5,222.3 330.4,217.1 331.2,212.5 C332.1,207.9 333.5,201.2 335,197.5 C336.5,193.8 337.5,191.6 340,190 C342.5,188.4 345,188.2 350,188 C355,187.8 364.2,189 370,188.8 C375.8,188.5 380.4,187.5 385,186.2 C389.6,185 394.5,182.3 397.5,181 C400.5,179.7 400.9,178.8 403,178.5 C405.1,178.2 408.2,178.8 410,179.5 C411.8,180.2 412.6,180.3 413.8,182.5 C414.9,184.7 416.6,188.8 417,192.5 C417.4,196.2 417.2,200.8 416.2,205 C415.3,209.2 413.5,214.2 411.2,217.5 C409,220.8 406,223.1 402.5,225 C399,226.9 394.6,227.5 390,228.8 C385.4,230 380,231.5 375,232.5 C370,233.5 364.2,234.8 360,235 C355.8,235.2 353.3,234.8 350,233.8 C346.7,232.7 343.3,230.2 340,228.8 C336.7,227.3 331.5,227.7 330,225Z" fill="#543005"/>
<path d="M258.8,253.8 C258.8,251 262.3,247.1 264,243.8 C265.7,240.4 268.2,236.9 268.8,233.8 C269.3,230.6 266.8,228.2 267.5,225 C268.2,221.8 270,217.2 273,214.5 C276,211.8 282.8,208.2 285.5,208.8 C288.2,209.2 288.2,214.3 289.5,217.5 C290.8,220.7 291.5,224.7 293,228 C294.5,231.3 297.2,234.6 298.8,237.5 C300.3,240.4 303,242.5 302.5,245.5 C302,248.5 298.2,252.1 296,255.5 C293.8,258.9 291,262.7 289,266 C287,269.3 285.8,273.6 283.8,275.5 C281.8,277.4 279.2,278.7 277,277.5 C274.8,276.3 272.7,271.4 270.5,268.5 C268.3,265.6 266,262.5 264,260 C262,257.5 258.8,256.5 258.8,253.8Z" fill="#543005"/>
<path d="M314.2,248.8 L311.2,255.5 L318.8,256.2Z" fill="#543005"/>
<path d="M332.5,143.8 L330,148 L332.5,150.5 L335,148Z" fill="#543005"/>
<path d="M238,104 C237.3,109.4 234.9,109.4 233.8,112.5 C232.6,115.6 232.7,119.4 231.2,122.5 C229.8,125.6 227.7,129 225,131.2 C222.3,133.5 217.9,134.6 215,136.2 C212.1,137.9 209.6,139.2 207.5,141.2 C205.4,143.3 203.8,146.2 202.5,148.8 C201.2,151.2 201.7,154.2 200,156.2 C198.3,158.3 195,159.8 192.5,161.2 C190,162.7 187.3,163.8 185,165 C182.7,166.2 179.8,167.1 178.8,168.8 C177.7,170.4 180.2,173.5 178.8,175 C177.3,176.5 172.7,176.5 170,177.5 C167.3,178.5 165,180 162.5,181.2 C160,182.5 156.7,183.1 155,185 C153.3,186.9 153.3,190 152.5,192.5 C151.7,195 151.2,197.3 150,200 C148.8,202.7 147.1,206.9 145,208.8 C142.9,210.6 140.4,211.5 137.5,211.2 C134.6,211 130,208.5 127.5,207.5 C125,206.5 124.6,204.4 122.5,205 C120.4,205.6 117.5,208.8 115,211.2 C112.5,213.8 109.4,217.3 107.5,220 C105.6,222.7 105.3,225.3 103.8,227.5 C102.2,229.7 102,228.9 98,233 C94,237.1 96.3,248.8 80,252 C63.7,255.2 13.3,280.7 0,252 C-13.3,223.3 -39.7,108.7 0,80 C39.7,51.3 198.3,76 238,80 C277.7,84 238.7,98.6 238,104Z" fill="#f4ebd4"/>
<path d="M378.8,276.2 C379.2,273.3 380.6,268.8 382.5,266.2 C384.4,263.8 387.3,261.9 390,261.2 C392.7,260.6 396.5,261.2 398.8,262.5 C401,263.8 403.1,266 403.8,268.8 C404.4,271.5 404,276 402.5,278.8 C401,281.5 397.9,283.5 395,285 C392.1,286.5 387.5,287.7 385,287.5 C382.5,287.3 381,285.6 380,283.8 C379,281.9 378.3,279.2 378.8,276.2Z" fill="#f4ebd4"/>
<path d="M446.2,273.8 C446.7,270.6 448.5,266.9 451.2,263.8 C454,260.6 458.1,257.1 462.5,255 C466.9,252.9 472.5,251.9 477.5,251.2 C482.5,250.6 488.8,250.4 492.5,251.2 C496.2,252.1 498.1,254.5 500,256.2 C501.9,258 501.8,260 504,262 C506.2,264 512,265.5 513,268 C514,270.5 510.9,275 510,277 C509.1,279 509.6,278.7 507.5,280 C505.4,281.3 500.2,283.1 497.5,285 C494.8,286.9 492.3,289.2 491.2,291.2 C490.2,293.2 491,294.7 491.2,297 C491.5,299.3 493.1,302.4 492.5,305 C491.9,307.6 490,310.8 487.5,312.5 C485,314.2 481.2,314.8 477.5,315 C473.8,315.2 468.1,313.3 465,313.8 C461.9,314.2 460,314.8 458.8,317.5 C457.5,320.2 457.9,325.4 457.5,330 C457.1,334.6 457.1,341 456.2,345 C455.4,349 454.8,351.7 452.5,353.8 C450.2,355.8 445.8,357.1 442.5,357.5 C439.2,357.9 435.8,356.7 432.5,356.2 C429.2,355.8 426.2,354.8 422.5,355 C418.8,355.2 413.8,356.7 410,357.5 C406.2,358.3 402.9,358.3 400,360 C397.1,361.7 392.9,365 392.5,367.5 C392.1,370 395.8,372.9 397.5,375 C399.2,377.1 403.3,378.5 402.5,380 C401.7,381.5 395.4,383.5 392.5,383.8 C389.6,384 387.1,382.7 385,381.2 C382.9,379.8 381.2,377.7 380,375 C378.8,372.3 378.3,367.9 377.5,365 C376.7,362.1 375.2,359.8 375,357.5 C374.8,355.2 375.4,352.7 376.2,351.2 C377.1,349.8 377.3,349.4 380,348.8 C382.7,348.1 389.8,349.4 392.5,347.5 C395.2,345.6 394.6,341.2 396.2,337.5 C397.9,333.8 400.2,328.5 402.5,325 C404.8,321.5 407.1,319.2 410,316.2 C412.9,313.3 415.8,310 420,307.5 C424.2,305 430.4,302.9 435,301.2 C439.6,299.6 444.2,299 447.5,297.5 C450.8,296 454.8,295 455,292.5 C455.2,290 450.2,285.6 448.8,282.5 C447.3,279.4 445.8,276.9 446.2,273.8Z" fill="#f4ebd4"/>
<path d="M492.5,335 C492.7,332.9 494.2,330.2 496.2,328.8 C498.3,327.3 502.1,326.5 505,326.2 C507.9,326 513.3,326 513.8,327.5 C514.2,329 509.6,332.7 507.5,335 C505.4,337.3 503.3,340.2 501.2,341.2 C499.2,342.3 496.5,342.3 495,341.2 C493.5,340.2 492.3,337.1 492.5,335Z" fill="#f4ebd4"/>
<path d="M151,110 C150.2,117.1 148.1,119 146.2,122.5 C144.4,126 142.3,128.1 140,131.2 C137.7,134.4 135,138.1 132.5,141.2 C130,144.4 127.3,147.1 125,150 C122.7,152.9 120.3,155.8 118.8,158.8 C117.2,161.7 116.3,164.4 115.5,167.5 C114.7,170.6 114.5,174.2 113.8,177.5 C113,180.8 112.7,184.4 111.2,187.5 C109.8,190.6 107.1,193.8 105,196.2 C102.9,198.8 100.8,200.5 98.8,202.5 C96.7,204.5 94.4,206.6 92.5,208.5 C90.6,210.4 88.9,211.9 87.5,214 C86.1,216.1 86.9,214.7 84,221 C81.1,227.3 84,246.8 70,252 C56,257.2 11.7,280.7 0,252 C-11.7,223.3 -25.2,108.7 0,80 C25.2,51.3 125.8,75 151,80 C176.2,85 151.8,102.9 151,110Z" fill="#d0ebe6"/>
<path d="M50,227.5 C51.3,224.8 57.9,224.2 60,225 C62.1,225.8 62.5,229.7 62.5,232.5 C62.5,235.3 61.8,240.6 60,242 C58.2,243.4 53.7,243.4 52,241 C50.3,238.6 48.7,230.2 50,227.5Z" fill="#f4ebd4"/>
<path d="M54,131 C54,130.1 56.2,127.5 57,127.5 C57.8,127.5 59,130.1 59,131 C59,131.9 57.8,133 57,133 C56.2,133 54,131.9 54,131Z" fill="#f4ebd4"/>
<path d="M77.5,114 C78,119.8 79,121.9 80,125 C81,128.1 82.1,132.5 83.8,132.5 C85.4,132.5 87.3,127.1 90,125 C92.7,122.9 96.7,120.8 100,120 C103.3,119.2 107.1,119.2 110,120 C112.9,120.8 115.4,124 117.5,125 C119.6,126 121.2,126.9 122.5,126.2 C123.8,125.6 124.1,123.6 125,121.2 C125.9,118.9 127.5,117.2 128,112 C128.5,106.8 136.5,93.7 128,90 C119.5,86.3 85.4,86 77,90 C68.6,94 77,108.2 77.5,114Z" fill="#6cbdb1"/>
<path d="M28,144 C32.6,145.4 34.7,145.7 37.5,146.2 C40.3,146.8 41.2,147.5 45,147.5 C48.8,147.5 55,147.2 60,146.2 C65,145.3 71.5,142 75,142 C78.5,142 79.8,143.7 81.2,146.2 C82.7,148.8 84,153.5 83.8,157.5 C83.5,161.5 81.5,166.7 80,170 C78.5,173.3 76.2,174.6 75,177.5 C73.8,180.4 73.1,184.4 72.5,187.5 C71.9,190.6 72.5,193.8 71.2,196.2 C70,198.8 67.7,200.8 65,202.5 C62.3,204.2 59.2,205.4 55,206.2 C50.8,207.1 45,207.3 40,207.5 C35,207.7 28.7,208.2 25,207.5 C21.3,206.8 22.2,203.4 18,203 C13.8,202.6 3,213.8 0,205 C-3,196.2 -1.7,161.2 0,150 C1.7,138.8 5.3,139 10,138 C14.7,137 23.4,142.6 28,144Z" fill="#6cbdb1"/>
<path d="M103,100 L103.8,103.8 L110,110 L117.5,111.8 L123,108.8 L127,104 L127,92 L103,92Z" fill="#10736c"/>
<path d="M26.2,182.5 C26.5,180 27.1,177 28.8,175 C30.4,173 33.5,171.3 36.2,170.5 C39,169.7 43.1,169 45,170 C46.9,171 46.7,174.2 47.5,176.2 C48.3,178.3 49.5,180.4 50,182.5 C50.5,184.6 51.2,186.7 50.8,188.8 C50.3,190.8 49.3,193.5 47.5,195 C45.7,196.5 42.5,197.8 40,198 C37.5,198.2 34.6,197.6 32.5,196.2 C30.4,194.9 28.5,192.3 27.5,190 C26.5,187.7 26,185 26.2,182.5Z" fill="#10736c"/>
</g>
<use href="#lines"/>
</g>
<g class="logo" fill="#0050ef">
<path d="M7,5 L19.7,5 C23,6.5 25.5,9.5 27,13.5 C29,19 29.5,27 28.6,33.5 C27.5,39 25,43 22,46.5 C20.8,48.5 20.5,51 20.5,53.6 L7,53.6Z"/>
<path d="M56,7.8 C51,8.6 47.5,11.5 45,15.5 C42.5,19.5 41.3,24 40.7,28.5 C40,32 38,34.5 35.5,37 C31,41.5 26.5,46 24.4,50 C23.8,51.3 23.6,52.5 23.6,53.6 L56,53.6Z"/>
<text x="4.6" y="70.4" font-size="19.8" textLength="53.9" lengthAdjust="spacingAndGlyphs" stroke="#0050ef" stroke-width="0.3">KMI</text>
</g>
<g transform="translate(640,0)"><g class="logo" fill="#0050ef">
<path d="M7,5 L19.7,5 C23,6.5 25.5,9.5 27,13.5 C29,19 29.5,27 28.6,33.5 C27.5,39 25,43 22,46.5 C20.8,48.5 20.5,51 20.5,53.6 L7,53.6Z"/>
<path d="M56,7.8 C51,8.6 47.5,11.5 45,15.5 C42.5,19.5 41.3,24 40.7,28.5 C40,32 38,34.5 35.5,37 C31,41.5 26.5,46 24.4,50 C23.8,51.3 23.6,52.5 23.6,53.6 L56,53.6Z"/>
<text x="4.6" y="70.4" font-size="19.8" textLength="53.9" lengthAdjust="spacingAndGlyphs" stroke="#0050ef" stroke-width="0.3">KMI</text>
</g></g>
<text x="78.7" y="30.6" font-size="14" font-weight="bold" textLength="146.3" lengthAdjust="spacingAndGlyphs">Neerslaghoeveelheld</text>
<text x="77.8" y="51.4" font-size="12.3" textLength="124.7" lengthAdjust="spacingAndGlyphs">totaal november 2021</text>
<text x="718.7" y="30.6" font-size="14" font-weight="bold" textLength="386" lengthAdjust="spacingAndGlyphs">Verhouding tot de normaalwaarde neerslaghoeveelheld</text>
<text x="717.8" y="51.4" font-size="12.3" textLength="488.7" lengthAdjust="spacingAndGlyphs">totaal november 2021 in vergelijking met de maandelijkse normaalwaarde 1991-2020</text>
<rect x="563" y="96" width="26" height="56.8" fill="#081d58"/><rect x="563" y="152.5" width="26" height="56.8" fill="#24429b"/><rect x="563" y="209" width="26" height="56.8" fill="#1f80b8"/><rect x="563" y="265.5" width="26" height="56.8" fill="#41b6c4"/><rect x="563" y="322" width="26" height="56.8" fill="#97d6b9"/><rect x="563" y="378.5" width="26" height="56.8" fill="#e0f3b2"/><rect x="563" y="435" width="26" height="56.5" fill="#ffffd9"/><text x="601.6" y="101.7" font-size="13.6">140</text><text x="601.6" y="158.2" font-size="13.6">120</text><text x="601.6" y="214.7" font-size="13.6">100</text><text x="601.6" y="271.2" font-size="13.6">80</text><text x="601.6" y="327.7" font-size="13.6">60</text><text x="601.6" y="384.2" font-size="13.6">40</text><text x="601.6" y="440.7" font-size="13.6">20</text><text x="601.6" y="497.2" font-size="13.6">0</text><text x="632.4" y="74" font-size="13.8" font-weight="bold" text-anchor="end">mm</text>
<rect x="1203" y="96" width="26" height="56.8" fill="#10736c"/><rect x="1203" y="152.5" width="26" height="56.8" fill="#6cbdb1"/><rect x="1203" y="209" width="26" height="56.8" fill="#d0ebe6"/><rect x="1203" y="265.5" width="26" height="56.8" fill="#f4ebd4"/><rect x="1203" y="322" width="26" height="56.8" fill="#dbb973"/><rect x="1203" y="378.5" width="26" height="56.8" fill="#a4631a"/><rect x="1203" y="435" width="26" height="56.5" fill="#543005"/><text x="1241.6" y="101.7" font-size="13.6">160</text><text x="1241.6" y="158.2" font-size="13.6">140</text><text x="1241.6" y="214.7" font-size="13.6">120</text><text x="1241.6" y="271.2" font-size="13.6">100</text><text x="1241.6" y="327.7" font-size="13.6">80</text><text x="1241.6" y="384.2" font-size="13.6">60</text><text x="1241.6" y="440.7" font-size="13.6">40</text><text x="1241.6" y="497.2" font-size="13.6">20</text><text x="1272" y="74" font-size="13.8" font-weight="bold" text-anchor="end">%</text>
</svg>
</body></html>
